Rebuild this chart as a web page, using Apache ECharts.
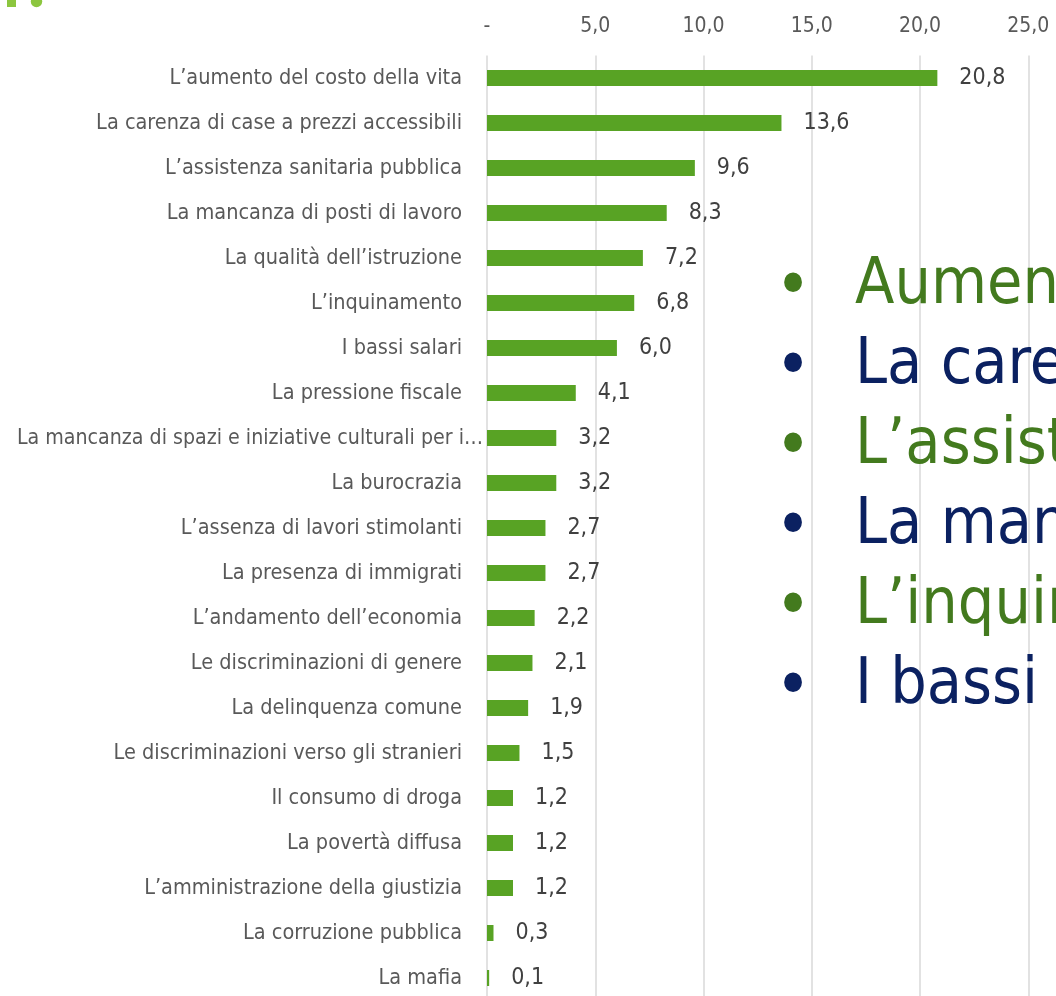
<!DOCTYPE html>
<html>
<head>
<meta charset="utf-8">
<script src="https://cdn.jsdelivr.net/npm/echarts@6/dist/echarts.min.js"></script>
<style>
html,body{margin:0;padding:0;background:#ffffff;}
#c{width:1056px;height:996px;}
</style>
</head>
<body>
<div id="c"></div>
<script>
const categories = [
  "L’aumento del costo della vita",
  "La carenza di case a prezzi accessibili",
  "L’assistenza sanitaria pubblica",
  "La mancanza di posti di lavoro",
  "La qualità dell’istruzione",
  "L’inquinamento",
  "I bassi salari",
  "La pressione fiscale",
  "La mancanza di spazi e iniziative culturali per i…",
  "La burocrazia",
  "L’assenza di lavori stimolanti",
  "La presenza di immigrati",
  "L’andamento dell’economia",
  "Le discriminazioni di genere",
  "La delinquenza comune",
  "Le discriminazioni verso gli stranieri",
  "Il consumo di droga",
  "La povertà diffusa",
  "L’amministrazione della giustizia",
  "La corruzione pubblica",
  "La mafia"
];
const values = [20.8, 13.6, 9.6, 8.3, 7.2, 6.8, 6.0, 4.1, 3.2, 3.2, 2.7, 2.7, 2.2, 2.1, 1.9, 1.5, 1.2, 1.2, 1.2, 0.3, 0.1];
const tickLabels = ["-", "5,0", "10,0", "15,0", "20,0", "25,0"];
const overlayLines = [
  "Aumento del costo della vita",
  "La carenza di case a prezzi accessibili",
  "L’assistenza sanitaria pubblica",
  "La mancanza di posti di lavoro",
  "L’inquinamento",
  "I bassi salari"
];
const overlayColors = ["#437a1e", "#0b2161", "#437a1e", "#0b2161", "#437a1e", "#0b2161"];

const F = '"DejaVu Sans Condensed", "DejaVu Sans", sans-serif';
const chart = echarts.init(document.getElementById('c'), null, {renderer: 'canvas'});

const graphics = [
  {type: 'rect', shape: {x: 7, y: -2, width: 9, height: 9}, style: {fill: '#8cc63f'}, z: 100},
  {type: 'circle', shape: {cx: 36.5, cy: 1.5, r: 5.7}, style: {fill: '#8cc63f'}, z: 100}
];
overlayLines.forEach((t, i) => {
  const y = 286 + i * 80;
  graphics.push({
    type: 'text', z: 100,
    style: {text: '•', x: 793, y: y + 3, fill: overlayColors[i], fontSize: 68, fontFamily: F, align: 'center', verticalAlign: 'middle'}
  });
  graphics.push({
    type: 'text', z: 100,
    style: {text: t, x: 855, y: y, fill: overlayColors[i], fontSize: 64, fontFamily: F, align: 'left', verticalAlign: 'middle'}
  });
});

const option = {
  animation: false,
  backgroundColor: '#ffffff',
  grid: {left: 487, right: 27.7, top: 55.5, height: 945, outerBoundsMode: 'none', containLabel: false},
  xAxis: {
    type: 'value', position: 'top', min: 0, max: 25, interval: 5,
    axisLine: {show: false}, axisTick: {show: false},
    splitLine: {lineStyle: {color: '#d9d9d9', width: 1.5}},
    axisLabel: {formatter: (v, i) => tickLabels[i], color: '#595959', fontSize: 21, fontFamily: F, margin: 18}
  },
  yAxis: {
    type: 'category', inverse: true,
    data: categories.map((c, i) => i === 8 ? {value: c, textStyle: {padding: [0, -21, 0, 0], fontSize: 21.2}} : c),
    axisLine: {show: false}, axisTick: {show: false},
    axisLabel: {color: '#595959', fontSize: 21.5, fontFamily: F, margin: 25, interval: 0}
  },
  series: [{
    type: 'bar', data: values, barWidth: 16,
    itemStyle: {color: '#58a324'},
    label: {
      show: true, position: 'right', distance: 22,
      formatter: p => p.value.toFixed(1).replace('.', ','),
      color: '#404040', fontSize: 23, fontFamily: F
    }
  }],
  graphic: graphics
};
chart.setOption(option);
</script>
</body>
</html>
